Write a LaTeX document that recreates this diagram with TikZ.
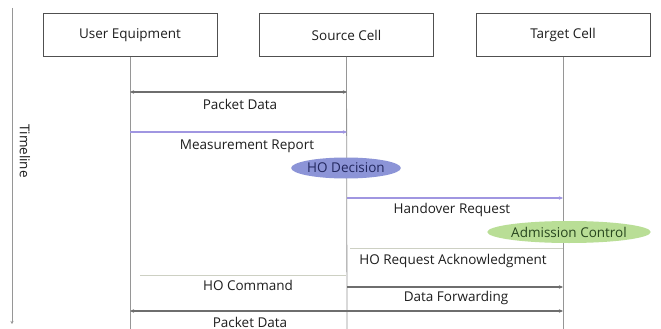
\documentclass[tikz,border=0pt]{standalone}
\usepackage{fontspec}
\setmainfont{Open Sans}
\usetikzlibrary{arrows.meta,shapes.geometric}
\definecolor{ink}{RGB}{30,30,30}
\definecolor{frame}{RGB}{80,80,80}
\definecolor{life}{RGB}{150,150,150}
\definecolor{msg}{RGB}{110,110,110}
\definecolor{lav}{RGB}{160,150,225}
\definecolor{pale}{RGB}{205,208,195}
\definecolor{decfill}{RGB}{140,148,215}
\definecolor{decink}{RGB}{35,40,95}
\definecolor{admfill}{RGB}{185,222,150}
\definecolor{admink}{RGB}{40,70,30}
\tikzset{
  actor/.style={draw=frame, line width=0.8pt, minimum width=174pt, minimum height=43pt, inner sep=0pt, text=ink, font=\fontsize{13.5}{16}\selectfont},
  lifeline/.style={draw=life, line width=0.8pt},
  lbl/.style={text=ink, font=\fontsize{13.5}{16}\selectfont, inner sep=0pt},
  tip/.style={-{Stealth[length=4pt,width=3.5pt]}},
  tips/.style={{Stealth[length=4pt,width=3.5pt]}-{Stealth[length=4pt,width=3.5pt]}},
  datamsg/.style={draw=msg, line width=1.1pt},
  lavmsg/.style={draw=lav, line width=1.1pt},
  palemsg/.style={draw=pale, line width=1pt},
  bubble/.style={ellipse, inner sep=0pt, font=\fontsize{13.5}{16}\selectfont}
}
\begin{document}
\begin{tikzpicture}[x=1pt,y=-1pt]
\useasboundingbox (0,0) rectangle (661,329);
\fill[white] (0,0) rectangle (661,329);

% timeline axis
\coordinate (t0) at (12,8);
\coordinate (t1) at (12,324);
\draw[draw=life, line width=0.8pt, -{Stealth[length=3pt,width=3pt]}] (t0) -- (t1);
\node[lbl, rotate=-90] (timeline) at (25,151) {Timeline};

% participants
\node[actor] (ue) at (130,35) {User Equipment};
\node[actor] (src) at (346.5,35) {Source Cell};
\node[actor] (tgt) at (563,35) {Target Cell};

% lifelines
\coordinate (ueEnd) at (130,329);
\coordinate (srcEnd) at (347,329);
\coordinate (tgtEnd) at (563,329);
\draw[lifeline] (ue.south) -- (ueEnd);
\draw[lifeline] (src.south) -- (srcEnd);
\draw[lifeline] (tgt.south) -- (tgtEnd);

% message anchor points
\coordinate (m1a) at (130,92);  \coordinate (m1b) at (347,92);
\coordinate (m2a) at (130,132); \coordinate (m2b) at (347,132);
\coordinate (m3a) at (347,198); \coordinate (m3b) at (563,198);
\coordinate (m4a) at (350,248); \coordinate (m4b) at (563,248);
\coordinate (m5a) at (140,275); \coordinate (m5b) at (346,275);
\coordinate (m6a) at (347,287); \coordinate (m6b) at (563,287);
\coordinate (m7a) at (130,311); \coordinate (m7b) at (563,311);

% messages
\draw[datamsg, tips] (m1a) -- (m1b);
\node[lbl] (l1) at (240,104) {Packet Data};

\draw[lavmsg, tip] (m2a) -- (m2b);
\node[lbl] (l2) at (247,146) {Measurement Report};

\node[bubble, fill=decfill, text=decink, minimum width=106pt, minimum height=21pt] (dec) at (346,168) {HO Decision};

\draw[lavmsg, tip] (m3a) -- (m3b);
\node[lbl] (l3) at (452,210) {Handover Request};

\node[bubble, fill=admfill, text=admink, minimum width=162pt, minimum height=22pt] (adm) at (569,232) {Admission Control};

\draw[palemsg] (m4a) -- (m4b);
\node[lbl] (l4) at (453,261) {HO Request Acknowledgment};

\draw[palemsg] (m5a) -- (m5b);
\node[lbl] (l5) at (248,285) {HO Command};

\draw[datamsg, tip] (m6a) -- (m6b);
\node[lbl] (l6) at (456,298) {Data Forwarding};

\draw[datamsg, tips] (m7a) -- (m7b);
\node[lbl] (l7) at (250,322) {Packet Data};
\end{tikzpicture}
\end{document}
